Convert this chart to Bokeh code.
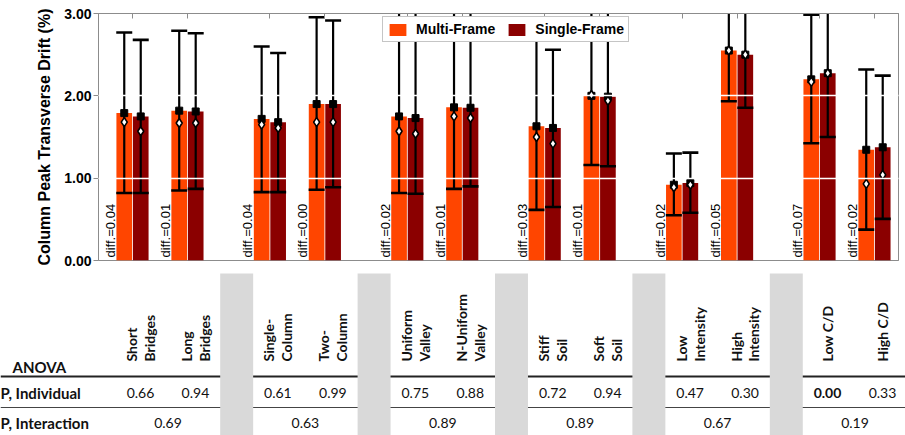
from math import pi
from bokeh.plotting import figure
from bokeh.models import (Range1d, FixedTicker, LinearAxis, NumeralTickFormatter,
                          Legend, LegendItem, CustomJSTickFormatter)
from bokeh.layouts import column
from bokeh.core.properties import value
from bokeh.embed import file_html
from bokeh.resources import INLINE

# ---------------- data ----------------
categories = ["Short\nBridges", "Long\nBridges", "Single-\nColumn", "Two-\nColumn",
              "Uniform\nValley", "N-Uniform\nValley", "Stiff\nSoil", "Soft\nSoil",
              "Low\nIntensity", "High\nIntensity", "Low C/D", "High C/D"]
series_names = ["Multi-Frame", "Single-Frame"]

multi_mean = [1.79, 1.82, 1.72, 1.90, 1.75, 1.86, 1.63, 2.00, 0.92, 2.55, 2.20, 1.345]
multi_median = [1.68, 1.67, 1.65, 1.68, 1.57, 1.75, 1.50, 2.01, 0.89, 2.55, 2.17, 0.93]
multi_low = [0.82, 0.85, 0.83, 0.86, 0.82, 0.87, 0.615, 1.16, 0.55, 1.935, 1.425, 0.375]
multi_high = [2.77, 2.79, 2.60, 2.955, 3.05, 3.10, 2.85, 3.05, 1.30, 3.30, 2.985, 2.32]

single_mean = [1.75, 1.81, 1.68, 1.90, 1.73, 1.855, 1.61, 1.99, 0.94, 2.50, 2.275, 1.375]
single_median = [1.57, 1.67, 1.61, 1.68, 1.54, 1.73, 1.42, 1.94, 0.92, 2.50, 2.275, 1.04]
single_low = [0.82, 0.87, 0.83, 0.89, 0.81, 0.90, 0.65, 1.145, 0.58, 1.855, 1.50, 0.505]
single_high = [2.68, 2.76, 2.52, 2.915, 3.05, 3.10, 2.56, 3.05, 1.31, 3.30, 3.10, 2.245]

diff_values = [0.04, 0.01, 0.04, 0.00, 0.02, 0.01, 0.03, 0.01, 0.02, 0.05, 0.07, 0.02]
p_individual = [0.66, 0.94, 0.61, 0.99, 0.75, 0.88, 0.72, 0.94, 0.47, 0.30, 0.00, 0.33]
p_interaction = [0.69, 0.63, 0.89, 0.89, 0.67, 0.19]
row_labels = ["P, Individual", "P, Interaction"]
y_ticks = [0, 1, 2, 3]

# ---------------- layout config ----------------
colors = ["#FF4500", "#8B0000"]
GRAY = "#8c8c8c"
W, H1, H2 = 905, 270, 165
L1, R1 = 98, 7
xs1, xe1 = -1.237, 27.874
ppu = (W - L1 - R1) / (xe1 - xs1)
tshift = 8
xs2 = xs1 - (L1 + tshift) / ppu
xe2 = xs2 + W / ppu

pos = [5 * (i // 2) + 2 * (i % 2) for i in range(len(categories))]
off, bw = 0.3, 0.57
xm = [x - off for x in pos]
xsng = [x + off for x in pos]
blank = CustomJSTickFormatter(code="return ''")

# ---------------- chart ----------------
p = figure(width=W, height=H1, x_range=Range1d(xs1, xe1), y_range=Range1d(0, 3),
           x_axis_location=None, toolbar_location=None, output_backend="svg",
           min_border_left=L1, min_border_right=R1, min_border_top=13, min_border_bottom=10,
           outline_line_color=GRAY, background_fill_color="white", border_fill_color="white")
p.frame_align = False
p.xgrid.visible = False
p.ygrid.ticker = FixedTicker(ticks=[1, 2])
p.ygrid.grid_line_color = "white"
p.ygrid.grid_line_width = 1.3
p.ygrid.level = "overlay"

ya = p.yaxis[0]
ya.ticker = FixedTicker(ticks=y_ticks)
ya.formatter = NumeralTickFormatter(format="0.00")
ya.axis_label = "Column Peak Transverse Drift (%)"
ya.axis_label_text_font = "Liberation Sans"
ya.axis_label_text_font_size = "16px"
ya.axis_label_text_font_style = "bold"
ya.axis_label_text_color = "black"
ya.axis_label_standoff = 8
ya.major_label_text_font = "Liberation Sans"
ya.major_label_text_font_size = "14px"
ya.major_label_text_font_style = "bold"
ya.major_label_text_color = "black"
ya.major_label_standoff = 2
ya.major_tick_in = 0
ya.major_tick_out = 5
ya.minor_tick_line_color = None
ya.axis_line_color = GRAY
ya.major_tick_line_color = GRAY

top_ax = LinearAxis(ticker=FixedTicker(ticks=pos), formatter=blank, major_tick_in=5,
                    major_tick_out=0, major_label_standoff=0,
                    axis_line_color=GRAY, major_tick_line_color=GRAY,
                    minor_tick_line_color=None)
p.add_layout(top_ax, "above")
right_ax = LinearAxis(ticker=FixedTicker(ticks=[1, 2]), formatter=blank, major_tick_in=5,
                      major_tick_out=0, major_label_standoff=0,
                      axis_line_color=GRAY, major_tick_line_color=GRAY,
                      minor_tick_line_color=None)
p.add_layout(right_ax, "right")

r_m = p.vbar(x=xm, width=bw, top=multi_mean, bottom=0, fill_color=colors[0], line_color=None)
r_s = p.vbar(x=xsng, width=bw, top=single_mean, bottom=0, fill_color=colors[1], line_color=None)

for xx, lo, hi in ((xm, multi_low, multi_high), (xsng, single_low, single_high)):
    p.segment(x0=xx, x1=xx, y0=lo, y1=hi, line_color="black", line_width=2.2)
    p.scatter(x=xx + xx, y=lo + hi, marker="dash", size=16, line_color="black", line_width=2.6)

for xx, mn, md in ((xm, multi_mean, multi_median), (xsng, single_mean, single_median)):
    p.scatter(x=xx, y=mn, marker="square", size=7, fill_color="black", line_color="black")
    p.scatter(x=xx, y=md, marker="diamond", size=9, fill_color="white",
              line_color="black", line_width=1.6)

p.text(x=[x - bw / 2 for x in xm], y=[0] * len(pos),
       text=[f"diff.={d:.2f}" for d in diff_values], angle=pi / 2,
       text_align="left", text_baseline="middle", x_offset=-6, y_offset=-3,
       text_font=value("Liberation Sans"), text_font_size="13px", text_color="black")

legend = Legend(items=[LegendItem(label=series_names[0], renderers=[r_m]),
                       LegendItem(label=series_names[1], renderers=[r_s])],
                orientation="horizontal", location=(284, 218), margin=0, padding=4,
                spacing=11, glyph_width=21, glyph_height=15, label_standoff=8,
                label_text_font="Liberation Sans", label_text_font_size="14px",
                label_text_font_style="bold", label_text_color="black",
                border_line_color=GRAY, border_line_width=1, background_fill_alpha=1)
p.add_layout(legend)

# ---------------- table ----------------
q = figure(width=W, height=H2, x_range=Range1d(xs2, xe2), y_range=Range1d(H2, 0),
           x_axis_location=None, y_axis_location=None, toolbar_location=None,
           output_backend="svg", min_border=0, outline_line_color=None,
           background_fill_color="white", border_fill_color="white")
q.frame_align = False
q.grid.visible = False

TF = value("Lato")
q.segment(x0=[xs2, xs2], x1=[xe2, xe2], y0=[106, 137], y1=[106, 137],
          line_color=["#222222", "#444444"], line_width=[2, 1.2])

gaps = [(pos[2 * k + 1] + pos[2 * k + 2]) / 2 for k in range(len(pos) // 2 - 1)]
q.quad(left=[g - 0.6 for g in gaps], right=[g + 0.6 for g in gaps], top=3, bottom=H2,
       fill_color="#D9D9D9", line_color=None)

q.text(x=pos, y=[91] * len(pos), text=categories, angle=pi / 2, text_align="left",
       text_baseline="middle", text_font=TF, text_font_style="bold",
       text_font_size="14px", text_line_height=1.05, text_color="#111111")

q.text(x=[xs2], y=[96], text=["ANOVA"], x_offset=12, text_align="left",
       text_baseline="middle", text_font=TF, text_font_style="bold",
       text_font_size="15px", text_color="#111111")
q.text(x=[xs2, xs2], y=[122, 152], text=row_labels, x_offset=0, text_align="left",
       text_baseline="middle", text_font=TF, text_font_style="bold",
       text_font_size="15px", text_color="#111111")

q.text(x=pos, y=[122] * len(pos), text=[f"{v:.2f}" for v in p_individual],
       text_font_style=["bold" if v < 0.05 else "normal" for v in p_individual],
       text_align="center", text_baseline="middle", text_font=TF,
       text_font_size="14px", text_color="#111111")
pair_centers = [(pos[2 * k] + pos[2 * k + 1]) / 2 for k in range(len(p_interaction))]
q.text(x=pair_centers, y=[152] * len(pair_centers), text=[f"{v:.2f}" for v in p_interaction],
       text_align="center", text_baseline="middle", text_font=TF,
       text_font_size="14px", text_color="#111111")

layout = column(p, q, spacing=0)
open("out.html", "w").write(file_html(layout, INLINE))
